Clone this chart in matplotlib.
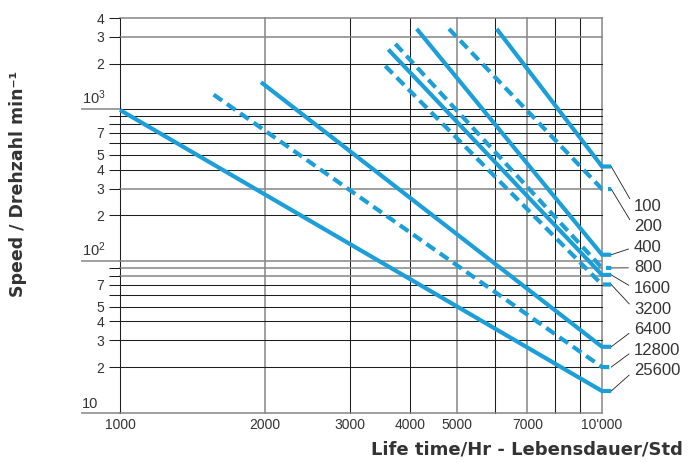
import matplotlib
matplotlib.use("Agg")
import matplotlib.pyplot as plt
from matplotlib.ticker import NullLocator
from matplotlib.transforms import blended_transform_factory

plt.rcParams['font.family'] = ['Liberation Sans', 'DejaVu Sans']
plt.rcParams['mathtext.fontset'] = 'custom'
plt.rcParams['mathtext.rm'] = 'Liberation Sans'

# =========================================================
# DATA
# =========================================================
curve_labels = ["100", "200", "400", "800", "1600", "3200", "6400", "12800", "25600"]
curve_dashed = [False, True, False, True, False, True, False, True, False]
start_hours = [6046, 4815, 4127, 3726, 3603, 3551, 1961, 1564, 1000]
start_speed = [3390, 3390, 3390, 2700, 2480, 1930, 1510, 1250, 990]
end_hours = 10000
stub_hours = 10450
end_speed = [420, 298, 110, 90, 81, 70, 27.2, 20, 13.9]

x_grid = [1000, 2000, 3000, 4000, 5000, 6000, 7000, 8000, 9000, 10000]
x_grey = [2000, 5000, 7000, 10000]
x_ticks = [1000, 2000, 3000, 4000, 5000, 7000, 10000]
x_tick_labels = ["1000", "2000", "3000", "4000", "5000", "7000", "10'000"]

y_major = [10, 100, 1000]
y_major_labels = ["10", r"$\mathregular{10^2}$", r"$\mathregular{10^3}$"]
y_minor = [20, 30, 40, 50, 60, 70, 80, 90,
           200, 300, 400, 500, 600, 700, 800, 900,
           2000, 3000, 4000]
y_grey = [10, 80, 90, 100, 300, 3000, 4000]
y_label_digits = [2, 3, 4, 5, 7]

BLUE = "#1c9fd8"
DARK = "#1e1e1e"
GREY = "#858585"
TXT = "#333333"

# =========================================================
# FIGURE
# =========================================================
W, H = 696, 463
fig = plt.figure(figsize=(W / 100, H / 100), dpi=100)
x0, x1, y_top, y_bot = 120, 602, 18, 412.7
ax = fig.add_axes([x0 / W, 1 - y_bot / H, (x1 - x0) / W, (y_bot - y_top) / H])
ax.set_xscale("log")
ax.set_yscale("log")
ax.set_xlim(1000, 10000)
ax.set_ylim(10, 4000)
for s in ax.spines.values():
    s.set_visible(False)

# grid
for v in x_grid:
    grey = v in x_grey
    ax.axvline(v, color=GREY if grey else DARK, lw=1.1 if grey else 0.75,
               clip_on=False, zorder=1)
for v in y_major + y_minor:
    grey = v in y_grey
    ax.axhline(v, color=GREY if grey else DARK, lw=1.1 if grey else 0.75,
               clip_on=False, zorder=1)

# x ticks
ax.xaxis.set_minor_locator(NullLocator())
ax.set_xticks(x_ticks, x_tick_labels)
ax.tick_params(axis="x", which="both", length=0, pad=3.5, labelsize=10,
               labelcolor=TXT)

# y ticks
ax.set_yticks(y_major, [""] * len(y_major))
minor_labels = []
for v in y_minor:
    d = int(str(v)[0])
    minor_labels.append(str(d) if d in y_label_digits else "")
ax.set_yticks(y_minor, minor_labels, minor=True)
ax.tick_params(axis="y", which="major", length=28, width=1.1, color=GREY)
ax.tick_params(axis="y", which="minor", length=7.7, width=0.75, color=DARK,
               pad=3.6, labelsize=10, labelcolor=TXT)

trans = blended_transform_factory(ax.transAxes, ax.transData)
for v, lab in zip(y_major, y_major_labels):
    ax.text(-(x0 - 82) / (x1 - x0), v * 1.03, lab, transform=trans,
            ha="left", va="bottom", fontsize=10.5, color=TXT)

# curves
for i, lab in enumerate(curve_labels):
    xs = [start_hours[i], end_hours, stub_hours]
    ys = [start_speed[i], end_speed[i], end_speed[i]]
    ls = (0, (2.5, 1.4)) if curve_dashed[i] else "-"
    ax.plot(xs, ys, color=BLUE, lw=3, ls=ls, solid_capstyle="butt",
            dash_capstyle="butt", solid_joinstyle="miter", clip_on=False,
            zorder=3)

# curve labels with leader lines
for i, lab in enumerate(curve_labels):
    py = 210.5 + i * 20.6
    yfrac = (y_bot - py) / (y_bot - y_top)
    ax.annotate(lab, xy=(stub_hours, end_speed[i]), xycoords="data",
                xytext=((634 - x0) / (x1 - x0), yfrac),
                textcoords="axes fraction", ha="left", va="baseline",
                fontsize=12, color=TXT, annotation_clip=False,
                arrowprops=dict(arrowstyle="-", color=DARK, lw=0.6,
                                shrinkA=2, shrinkB=0, relpos=(0, 0.5)))

# axis titles
fig.text(683 / W, 1 - 450 / H, "Life time/Hr - Lebensdauer/Std",
         ha="right", va="center", fontsize=13, fontweight="bold", color=TXT,
         family=["DejaVu Sans"])
fig.text(18 / W, 1 - 184 / H, "Speed / Drehzahl min⁻¹", rotation=90,
         ha="center", va="center", fontsize=12.5, fontweight="bold", color=TXT,
         family=["DejaVu Sans"])

fig.savefig("out.png", dpi=100)
